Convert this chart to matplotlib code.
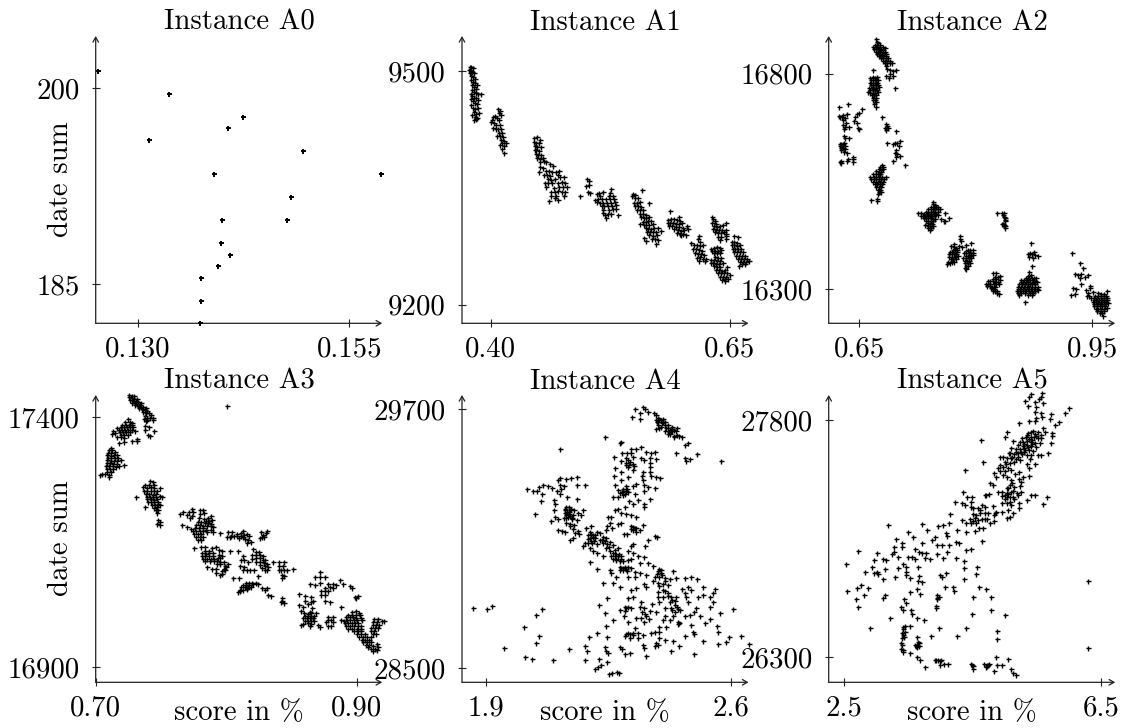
import matplotlib
matplotlib.use("Agg")
import matplotlib.pyplot as plt

A0_points = [(.12522,201.33),(.13367,199.57),(.14240,197.81),(.14063,196.94),(.13134,196.05),(.14947,195.18),(.13905,193.42),(.15875,193.42),(.14813,191.66),(.13999,189.90),(.14762,189.90),(.13984,188.14),(.14094,187.24),(.13952,186.38),(.13751,185.48),(.13747,183.72),(.13739,181.99)]

A1_points = [(.378,9505),(.380,9505),(.382,9504),(.377,9501),(.379,9500),(.381,9499),(.383,9497),(.378,9497),(.380,9494),(.382,9492),(.384,9490),(.380,9489),(.382,9486),(.384,9484),(.386,9482),(.381,9482),(.383,9479),(.385,9477),(.381,9476),(.383,9473),(.385,9472),(.387,9470),(.379,9470),(.381,9468),(.383,9466),(.385,9465),(.387,9463),(.390,9470),(.379,9464),(.382,9461),(.384,9459),(.386,9458),(.380,9457),(.382,9453),(.384,9451),(.387,9452),(.383,9447),(.385,9445),(.388,9446),(.381,9444),(.384,9441),(.386,9440),(.383,9437),(.385,9438),
(.408,9451),(.410,9449),(.409,9446),(.411,9443),(.405,9442),(.403,9441),(.407,9440),(.409,9437),(.401,9437),(.400,9434),(.404,9433),(.406,9431),(.410,9431),(.403,9427),(.406,9426),(.408,9425),(.411,9425),(.409,9421),(.412,9420),(.407,9417),(.410,9416),(.413,9415),(.411,9412),(.414,9410),(.416,9408),(.412,9407),(.410,9405),(.414,9404),(.412,9400),(.414,9395),
(.445,9414),(.449,9415),(.452,9412),(.445,9409),(.448,9408),(.451,9407),(.446,9404),(.449,9403),(.453,9403),(.446,9399),(.448,9398),(.451,9397),(.447,9393),(.450,9392),(.453,9392),(.449,9388),(.452,9387),(.455,9388),(.452,9383),(.456,9384),(.458,9383),
(.452,9377),(.455,9375),(.462,9380),(.465,9378),(.451,9370),(.458,9371),(.461,9372),(.464,9370),(.468,9370),(.472,9372),(.456,9366),(.459,9366),(.462,9365),(.470,9366),(.460,9361),(.463,9360),(.467,9361),(.473,9364),(.477,9364),(.457,9356),(.460,9356),(.464,9356),(.470,9356),(.475,9357),(.478,9356),(.458,9351),(.466,9350),(.472,9351),(.476,9351),(.480,9351),(.463,9345),(.467,9345),(.471,9346),(.475,9345),(.478,9344),(.463,9340),(.468,9340),(.477,9340),(.470,9335),(.461,9333),(.467,9337),
(.501,9361),(.503,9359),(.503,9354),(.500,9352),(.502,9345),(.504,9343),(.494,9340),
(.526,9349),(.513,9343),(.511,9342),(.518,9344),(.525,9343),(.528,9340),(.514,9339),(.524,9339),(.509,9335),(.512,9336),(.516,9336),(.521,9336),(.525,9336),(.529,9336),(.511,9332),(.514,9331),(.518,9331),(.522,9331),(.526,9331),(.530,9332),(.516,9327),(.519,9327),(.523,9327),(.527,9327),(.531,9328),(.518,9322),(.524,9322),(.528,9323),(.531,9323),(.518,9318),(.526,9317),(.520,9315),(.523,9316),(.533,9315),(.521,9311),
(.549,9342),(.551,9341),(.548,9339),(.551,9337),(.558,9347),(.554,9337),(.550,9331),(.553,9331),(.556,9332),(.566,9331),(.551,9327),(.554,9327),(.557,9326),(.553,9322),(.556,9322),(.559,9321),(.556,9317),(.559,9316),(.562,9315),(.557,9312),(.560,9311),(.563,9311),(.566,9313),(.559,9306),(.562,9306),(.565,9307),(.568,9308),(.556,9303),(.560,9302),(.563,9302),(.566,9302),(.570,9303),(.562,9298),(.565,9297),(.568,9297),(.571,9298),(.575,9298),(.564,9293),(.567,9293),(.570,9293),(.573,9293),(.578,9295),(.566,9289),(.570,9288),(.574,9289),(.560,9286),(.569,9284),(.572,9284),(.562,9282),(.575,9283),(.573,9278),
(.5875,9320),(.597,9312),(.586,9309),(.589,9310),(.592,9310),(.595,9309),(.598,9308),(.585,9305),(.588,9305),(.591,9305),(.594,9304),(.597,9304),(.600,9305),(.587,9301),(.590,9301),(.594,9300),(.597,9300),(.601,9299),(.605,9301),(.592,9297),(.596,9296),(.599,9295),(.602,9296),(.606,9297),(.595,9292),(.598,9291),(.601,9291),(.604,9290),(.599,9289),
(.618,9288),(.617,9284),(.619,9281),(.610,9279),(.613,9276),(.616,9277),(.619,9275),(.622,9276),(.612,9272),(.615,9271),(.618,9270),(.621,9269),(.614,9266),(.617,9265),(.620,9265),(.623,9264),(.616,9260),(.619,9261),(.622,9259),(.625,9259),(.618,9256),(.624,9256),
(.632,9313),(.633,9310),(.635,9307),(.632,9305),(.636,9304),(.646,9305),(.634,9301),(.637,9300),(.640,9301),(.643,9302),(.633,9297),(.636,9296),(.639,9296),(.642,9296),(.646,9296),(.635,9293),(.638,9292),(.641,9292),(.644,9293),(.646,9291),(.638,9287),(.641,9287),(.646,9288),(.640,9283),(.646,9284),
(.631,9272),(.634,9273),(.637,9274),(.640,9273),(.632,9269),(.635,9269),(.638,9269),(.641,9270),(.634,9266),(.637,9266),(.640,9266),
(.635,9261),(.638,9260),(.641,9260),(.631,9257),(.634,9257),(.637,9256),(.640,9256),(.630,9253),(.633,9253),(.636,9252),(.639,9252),(.643,9253),(.634,9249),(.637,9248),(.640,9248),(.647,9248),(.636,9244),(.639,9244),(.642,9243),(.645,9245),(.638,9240),(.641,9240),(.644,9240),(.647,9240),(.640,9236),(.643,9236),(.646,9236),(.650,9238),(.642,9232),(.645,9233),(.648,9233),(.645,9230),
(.6544,9288),(.6586,9287),(.652,9280),(.655,9281),(.658,9279),(.652,9276),(.655,9276),(.658,9275),(.661,9276),(.653,9272),(.656,9272),(.659,9271),(.662,9272),(.655,9268),(.658,9267),(.661,9267),(.664,9267),(.657,9263),(.660,9263),(.663,9263),(.666,9263),(.659,9259),(.662,9259),(.665,9258),(.668,9259),(.661,9255),(.664,9255),(.667,9255),(.670,9256),(.663,9252),(.666,9252),(.660,9250)]

A2_points = [(.6715,16879),(.673,16874),(.674,16870),(.670,16867),(.673,16866),(.676,16865),(.668,16861),(.671,16861),(.674,16860),(.677,16861),(.680,16861),(.683,16860),(.669,16856),(.672,16856),(.675,16855),(.678,16856),(.681,16855),(.671,16851),(.674,16850),(.677,16850),(.680,16850),(.683,16851),(.673,16846),(.676,16846),(.679,16845),(.682,16845),(.685,16846),(.675,16841),(.678,16840),(.681,16840),(.684,16841),(.678,16835),(.681,16835),(.684,16835),(.687,16836),(.680,16830),(.683,16830),(.686,16830),(.689,16830),(.683,16825),(.686,16825),(.689,16825),(.692,16825),(.697,16808),(.694,16806),(.690,16808),(.686,16810),(.684,16817),(.690,16800),(.693,16795),(.688,16790),(.684,16794),(.696,16766),
(.668,16808),(.664,16790),(.667,16791),(.670,16790),(.673,16791),(.665,16785),(.668,16785),(.671,16784),(.674,16785),(.664,16779),(.667,16779),(.670,16778),(.673,16779),(.665,16773),(.668,16773),(.671,16773),(.674,16773),(.663,16767),(.666,16767),(.669,16767),(.672,16767),(.675,16768),(.664,16761),(.667,16761),(.670,16761),(.673,16761),(.661,16757),(.664,16756),(.667,16756),(.670,16755),(.674,16757),(.666,16750),(.669,16750),(.672,16750),(.668,16744),(.671,16744),(.667,16738),(.670,16738),(.671,16733),(.671,16722),(.669,16730),
(.6243,16722),(.635,16729),(.6534,16718),(.6496,16708),(.6466,16706),(.6444,16700),(.6427,16691),(.6474,16685),(.6496,16671),(.6488,16673),(.6251,16700),(.6294,16704),(.6337,16706),(.6273,16699),(.6316,16696),(.6243,16702),(.6294,16692),(.6328,16686),(.6285,16681),(.6316,16677),(.6371,16677),(.6303,16671),
(.6303,16655),(.6371,16650),(.6316,16650),(.6303,16640),(.6252,16637),(.627,16636),(.6294,16637),(.625,16632),(.628,16631),(.631,16632),(.626,16627),(.629,16627),(.6316,16626),(.627,16622),(.630,16617),(.6337,16615),(.6414,16607),(.636,16602),(.6414,16601),(.6414,16595),(.626,16597),(.627,16592),(.6256,16596),(.6337,16597),
(.6792,16699),(.6839,16683),(.6856,16678),(.6826,16673),(.6865,16673),(.6843,16668),(.6972,16666),(.6852,16638),(.6929,16637),(.6963,16638),(.6989,16640),(.7023,16644),(.7015,16632),(.6972,16623),(.6959,16615),(.6989,16613),(.6972,16607),(.7023,16609),(.6929,16597),(.7083,16589),
(.6796,16588),(.677,16583),(.680,16583),(.675,16578),(.678,16577),(.681,16578),(.672,16573),(.675,16572),(.678,16572),(.668,16567),(.671,16567),(.674,16567),(.677,16567),(.664,16561),(.669,16561),(.672,16561),(.675,16561),(.679,16561),(.684,16560),(.665,16555),(.669,16555),(.672,16555),(.675,16555),(.678,16555),(.682,16555),(.667,16549),(.671,16549),(.674,16549),(.677,16549),(.680,16549),(.670,16543),(.673,16543),(.676,16543),(.679,16544),(.672,16537),(.675,16537),(.678,16537),(.674,16531),(.677,16531),(.675,16525),(.678,16526),(.674,16520),(.6646,16507),(.673,16505),(.6731,16508),
(.745,16503),(.745,16497),(.747,16495),(.743,16491),(.746,16490),(.749,16491),(.752,16490),(.739,16486),(.742,16485),(.745,16485),(.748,16485),(.751,16485),(.754,16486),(.736,16480),(.739,16480),(.742,16480),(.745,16480),(.748,16480),(.751,16480),(.725,16477),(.730,16476),(.734,16475),(.737,16475),(.740,16475),(.743,16475),(.746,16475),(.749,16474),(.729,16470),(.732,16470),(.735,16470),(.738,16470),(.741,16470),(.744,16470),(.747,16471),(.752,16471),(.733,16464),(.736,16464),(.739,16464),(.742,16464),(.745,16463),(.748,16463),(.736,16459),(.739,16458),(.742,16458),(.745,16458),(.738,16453),(.741,16452),(.744,16452),(.735,16448),(.739,16447),(.741,16446),(.745,16447),(.738,16441),(.742,16441),(.741,16437),(.7602,16476),(.7658,16464),(.761,16459),(.759,16458),(.7555,16462),
(.828,16476),(.8342,16477),(.8363,16476),(.8353,16471),(.8363,16468),(.8375,16466),(.8375,16460),(.8384,16458),(.8353,16451),(.8340,16451),(.8375,16447),(.8382,16442),(.8365,16449),
(.7796,16424),(.7795,16417),(.7813,16411),(.7725,16405),(.7688,16400),(.7779,16400),(.782,16397),(.7876,16403),(.7946,16406),(.7718,16399),(.7745,16395),(.7703,16392),(.7735,16391),(.7765,16392),(.7670,16387),(.770,16386),(.773,16386),(.776,16386),(.7875,16389),(.7905,16390),(.793,16390),(.796,16391),(.765,16381),(.769,16381),(.772,16381),(.775,16381),(.785,16383),(.788,16383),(.791,16384),(.794,16384),(.797,16385),(.766,16375),(.770,16375),(.773,16375),(.777,16376),(.787,16378),(.790,16378),(.793,16378),(.796,16379),(.768,16370),(.771,16370),(.775,16370),(.784,16372),(.788,16372),(.791,16372),(.794,16372),(.764,16364),(.769,16364),(.772,16364),(.786,16366),(.789,16366),(.792,16366),(.763,16359),(.767,16361),(.786,16360),(.790,16360),(.793,16360),(.787,16354),(.790,16354),(.788,16348),(.786,16350),
(.8225,16338),(.8265,16337),(.8310,16330),(.825,16329),(.829,16329),(.8225,16324),(.826,16324),(.8315,16321),(.816,16318),(.819,16318),(.822,16318),(.825,16317),(.829,16316),(.813,16313),(.816,16313),(.819,16312),(.823,16312),(.826,16311),(.830,16311),(.815,16308),(.818,16308),(.821,16306),(.825,16306),(.820,16302),(.824,16301),(.822,16297),(.825,16297),(.827,16295),(.828,16291),(.830,16290),
(.8688,16340),(.8718,16332),(.868,16331),(.8755,16326),(.865,16326),(.869,16326),(.873,16325),(.878,16326),(.859,16321),(.862,16321),(.866,16321),(.870,16321),(.874,16321),(.877,16320),(.858,16316),(.861,16316),(.865,16316),(.868,16316),(.872,16315),(.875,16316),(.879,16316),(.856,16311),(.860,16311),(.863,16311),(.867,16311),(.870,16311),(.873,16311),(.877,16311),(.855,16306),(.859,16306),(.862,16306),(.866,16306),(.869,16306),(.872,16306),(.876,16306),(.880,16306),(.854,16301),(.857,16301),(.861,16301),(.864,16301),(.868,16301),(.871,16301),(.875,16301),(.879,16301),(.853,16296),(.857,16296),(.861,16296),(.865,16296),(.869,16296),(.873,16296),(.877,16296),(.881,16298),(.854,16291),(.859,16291),(.864,16291),(.870,16291),(.874,16291),(.856,16287),(.868,16286),(.873,16287),(.864,16271),
(.8718,16406),(.8696,16384),(.8748,16387),(.868,16381),(.8727,16381),(.876,16379),(.8808,16377),(.8688,16374),(.874,16373),(.8727,16354),
(.9237,16384),(.934,16361),(.9383,16350),(.9361,16335),(.9319,16332),(.9447,16332),(.9404,16329),(.934,16325),(.9361,16313),(.9276,16335),(.9254,16302),(.9297,16301),(.9276,16290),(.9233,16286),(.9469,16307),(.9426,16298),
(.9447,16292),(.9469,16302),(.9430,16285),(.9460,16284),(.9490,16280),(.9510,16293),(.9575,16291),(.9690,16296),(.9620,16290),(.9660,16290),(.9540,16285),(.9580,16285),(.9620,16285),(.9660,16285),(.9680,16284),(.9530,16280),(.9570,16280),(.9610,16280),(.9650,16280),(.9690,16280),(.9520,16275),(.9555,16275),(.9590,16275),(.9625,16275),(.9660,16275),(.9695,16276),(.9510,16270),(.9545,16270),(.9580,16270),(.9615,16270),(.9650,16270),(.9685,16270),(.9705,16268),(.9530,16265),(.9565,16265),(.9600,16265),(.9635,16265),(.9670,16265),(.9530,16260),(.9565,16260),(.9600,16260),(.9635,16260),(.9670,16260),(.9545,16255),(.9580,16255),(.9615,16255),(.9650,16255),(.9690,16256),(.9570,16250),(.9610,16250),(.9650,16250),(.9600,16245),(.9630,16245),(.9640,16239)]

A3_points = [(.8002,17422),(.7255,17445),(.7275,17443),(.7295,17442),(.7255,17440),(.7275,17438),(.7295,17437),(.7315,17436),(.7265,17435),(.7285,17433),(.7305,17432),(.7325,17431),(.7345,17429),(.7280,17429),(.7300,17428),(.7320,17426),(.7340,17425),(.7300,17424),(.7325,17422),(.7345,17421),(.7365,17420),(.7385,17418),(.7335,17418),(.7355,17416),(.7375,17414),(.7395,17413),(.7365,17410),(.7385,17408),(.7405,17408),(.7425,17404),(.7375,17402),(.7440,17399),(.7395,17399),(.7415,17398),(.7370,17396),(.7385,17393),(.7440,17394),(.7395,17395),
(.7245,17396),(.7225,17390),(.7260,17391),(.7280,17389),(.7205,17385),(.7230,17385),(.7255,17385),(.7280,17384),(.7160,17378),(.7190,17381),(.7215,17380),(.7240,17380),(.7265,17380),(.7285,17380),(.7135,17372),(.7175,17375),(.7200,17375),(.7225,17375),(.7250,17375),(.7275,17375),(.7300,17373),(.7125,17367),(.7150,17368),(.7185,17370),(.7210,17370),(.7235,17370),(.7260,17370),(.7195,17365),(.7220,17365),(.7245,17364),(.7165,17361),(.7190,17361),(.7215,17358),(.7314,17357),(.7275,17352),(.7320,17352),(.7215,17350),(.7180,17348),(.7377,17382),(.7408,17380),(.7377,17374),(.7446,17372),(.7403,17365),(.7416,17362),
(.7115,17339),(.7100,17335),(.7125,17334),(.7095,17329),(.7120,17329),(.7145,17330),(.7090,17324),(.7115,17323),(.7140,17324),(.7165,17325),(.7095,17319),(.7120,17318),(.7145,17318),(.7170,17319),(.7090,17314),(.7115,17313),(.7140,17313),(.7165,17312),(.7190,17315),(.7085,17308),(.7110,17308),(.7135,17307),(.7160,17307),(.7215,17305),(.7080,17303),(.7105,17302),(.7130,17302),(.7155,17301),(.7180,17303),(.7085,17297),(.7110,17296),(.7135,17296),(.7090,17291),(.7115,17290),(.7030,17285),(.7050,17287),(.7100,17284),(.7105,17280),(.7075,17287),
(.7416,17272),(.7435,17270),(.7380,17265),(.7410,17265),(.7450,17265),(.7365,17260),(.7395,17258),(.7420,17260),(.7445,17258),(.7490,17258),(.7370,17253),(.7395,17252),(.7420,17252),(.7445,17252),(.7470,17252),(.7385,17247),(.7410,17246),(.7435,17245),(.7460,17246),(.7390,17241),(.7415,17241),(.7440,17240),(.7465,17241),(.7495,17242),(.7310,17240),(.7395,17236),(.7420,17236),(.7445,17235),(.7470,17236),(.7510,17240),(.7400,17231),(.7425,17230),(.7450,17230),(.7475,17230),(.7430,17225),(.7455,17225),(.7480,17226),(.7375,17220),(.7445,17219),(.7470,17220),(.7495,17224),(.7460,17214),(.7480,17214),(.7470,17209),(.7474,17194),(.7490,17190),(.7470,17186),(.7490,17184),
(.7734,17217),(.7670,17210),(.7715,17210),(.7745,17210),(.7800,17214),(.7825,17214),(.7645,17206),(.7700,17204),(.7735,17203),(.7830,17209),(.7800,17207),(.7720,17198),(.7790,17198),(.7830,17197),(.7860,17198),(.7885,17203),(.7845,17193),(.7870,17193),(.7890,17194),(.7780,17190),(.7810,17190),(.7835,17188),(.7860,17188),(.7885,17187),(.7660,17184),(.7700,17181),(.7765,17184),(.7795,17184),(.7825,17183),(.7855,17183),(.7880,17183),(.7900,17180),(.7730,17177),(.7760,17178),(.7790,17178),(.7820,17178),(.7845,17175),(.7885,17175),(.7895,17170),(.7745,17172),(.7770,17172),(.7800,17172),(.7825,17172),(.7850,17170),(.7755,17166),(.7785,17166),(.7810,17166),(.7770,17160),(.7795,17160),(.7820,17160),(.7780,17155),(.7810,17155),(.7752,17138),
(.7810,17140),(.7840,17140),(.7890,17139),(.7920,17140),(.7945,17135),(.7970,17132),(.7840,17133),(.7865,17133),(.7815,17128),(.7845,17127),(.7870,17128),(.7895,17128),(.7815,17123),(.7840,17122),(.7870,17122),(.7895,17122),(.7945,17125),(.7965,17122),(.7825,17117),(.7855,17117),(.7880,17116),(.7905,17116),(.7935,17118),(.7955,17118),(.7840,17112),(.7875,17112),(.7905,17112),(.7930,17112),(.7950,17110),(.7930,17106),(.7955,17106),(.7985,17110),(.7990,17102),(.8000,17100),(.7850,17100),(.7890,17096),(.7925,17096),(.7980,17097),(.7970,17092),(.7990,17094),(.7920,17089),(.7965,17087),(.7950,17085),
(.7955,17169),(.8010,17170),(.8040,17170),(.8130,17172),(.8080,17167),(.8110,17168),(.8160,17167),(.8035,17163),(.8060,17163),(.8085,17163),(.8110,17163),(.8135,17164),(.8005,17160),(.8030,17160),(.8100,17158),(.8125,17160),(.8145,17156),(.8175,17162),(.8165,17155),(.8190,17150),(.8160,17148),(.8265,17171),(.8315,17173),(.8305,17168),(.8285,17165),(.8275,17160),(.8260,17158),(.8290,17160),
(.8032,17132),(.8091,17132),(.8015,17107),(.8130,17122),(.8205,17137),(.8225,17130),(.8250,17130),(.8195,17125),(.8230,17125),(.8255,17125),(.8285,17123),(.8115,17115),(.8135,17115),(.8195,17117),(.8230,17118),(.8255,17118),(.8280,17115),(.8300,17115),(.8170,17110),(.8225,17110),(.8260,17110),(.8290,17108),(.8315,17107),(.8105,17103),(.8135,17100),(.8260,17104),(.8295,17102),(.8320,17100),(.8360,17110),(.8400,17110),(.8445,17111),(.8405,17103),(.8435,17103),(.8130,17095),(.8155,17094),(.8185,17095),(.8210,17095),(.8270,17098),(.8300,17095),(.8315,17095),(.8400,17094),(.8420,17094),(.8440,17094),(.8465,17094),(.8510,17097),(.8430,17085),(.8445,17082),(.8430,17078),(.8245,17082),(.8100,17079),(.8053,17078),
(.8150,17068),(.8175,17068),(.8200,17069),(.8225,17068),(.8130,17064),(.8150,17064),(.8175,17064),(.8205,17066),(.8245,17066),(.8115,17060),(.8140,17060),(.8165,17060),(.8190,17061),(.8105,17055),(.8130,17055),(.8155,17056),(.8090,17050),(.8105,17052),(.8160,17058),(.827,17058),(.8308,17058),(.8295,17055),(.8321,17045),(.8339,17043),(.843,17038),(.8418,17031),(.8441,17028),(.843,17033),
(.8558,17047),(.8601,17043),(.8652,17040),(.8665,17033),(.8601,17033),(.8645,17031),(.8627,17027),(.8556,17025),(.8589,17021),(.8657,17018),(.8576,17013),(.864,17011),
(.8595,17008),(.8625,17006),(.8650,17008),(.8690,17008),(.8600,17002),(.8625,17002),(.8650,17002),(.8675,17002),(.8590,16998),(.8615,16998),(.8640,16998),(.8665,16998),(.8600,16993),(.8625,16993),(.8650,16993),(.8670,16993),(.8590,16987),(.8625,16988),(.8645,16987),(.8640,16982),(.8575,16985),(.8700,16985),
(.878,17001),(.8818,17001),(.878,16995),(.8805,16995),(.8767,16991),(.8818,16991),(.8716,16981),(.878,16983),(.8805,16983),
(.8716,17090),(.8678,17081),(.8716,17080),(.8754,17081),(.864,17066),(.8678,17065),(.8716,17068),(.878,17067),(.8818,17067),(.8844,17065),(.8754,17058),(.8793,17060),(.8818,17058),(.8729,17052),(.8754,17052),(.878,17052),(.8754,17045),(.8754,17033),(.8793,17031),(.8729,17045),
(.8874,17074),(.8895,17067),(.8951,17062),(.8966,17058),(.8984,17040),(.9009,17042),(.8997,17038),(.8882,17021),
(.8960,17011),(.8990,17012),(.9015,17008),(.8935,17005),(.8960,17004),(.8990,17004),(.9025,17005),(.8920,17000),(.8945,17000),(.8970,17000),(.8995,16999),(.9030,16999),(.8875,16994),(.8900,16993),(.8925,16994),(.8950,16994),(.8975,16994),(.9000,16994),(.9040,16994),(.9135,16997),(.9160,16997),(.9190,16992),(.9210,16993),(.8910,16989),(.8935,16988),(.8960,16988),(.8985,16988),(.9010,16988),(.9125,16990),(.9155,16990),(.8915,16983),(.8945,16983),(.8975,16983),(.9005,16983),(.9035,16983),(.9120,16985),(.9145,16985),(.9170,16985),(.8935,16977),(.8965,16977),(.9000,16977),(.9030,16977),(.9105,16978),(.9140,16978),(.9160,16978),(.8980,16972),(.9010,16972),(.9035,16972),(.9110,16972),(.9135,16972),(.9000,16966),(.9030,16966),(.9060,16966),(.9120,16966),(.9150,16966),(.9020,16960),(.9050,16960),(.9080,16960),(.9110,16961),(.9040,16955),(.9065,16955),(.9095,16955),(.9050,16950),(.9080,16950),(.9110,16950),(.9070,16945),(.9095,16945),(.9125,16943),(.9155,16946),(.9085,16940),(.9165,16940),(.9105,16937),(.9140,16937),(.9120,16933),(.9155,16935)]

A4_points = [(2.324,29701),(2.317,29663),(2.340,29681),(2.340,29657),(2.348,29712),(2.355,29701),(2.362,29689),(2.378,29681),(2.386,29674),(2.384,29651),(2.395,29654),(2.404,29654),(2.392,29643),(2.401,29635),(2.410,29643),(2.390,29625),(2.400,29620),(2.386,29608),(2.395,29612),(2.410,29625),(2.420,29628),(2.430,29620),(2.418,29612),(2.426,29605),(2.436,29605),(2.445,29612),(2.412,29600),(2.421,29595),(2.432,29597),(2.442,29600),(2.425,29585),(2.436,29578),(2.446,29582),(2.460,29570),(2.450,29575),(2.437,29570),(2.467,29535),(2.476,29543),(2.443,29496),(2.467,29473),(2.472,29462),(2.481,29470),(2.502,29492),(2.570,29458),(2.240,29570),(2.110,29515),(2.281,29543),(2.286,29546),
(2.343,29527),(2.315,29515),(2.329,29515),(2.288,29499),(2.302,29499),(2.315,29499),(2.357,29504),(2.372,29496),(2.381,29504),(2.264,29481),(2.300,29473),(2.319,29478),(2.343,29473),(2.352,29465),(2.367,29473),(2.384,29470),(2.286,29458),(2.300,29453),(2.309,29442),(2.322,29438),(2.367,29450),(2.367,29434),(2.267,29427),(2.305,29431),(2.284,29411),(2.319,29419),(2.348,29411),(2.367,29411),(2.346,29391),(2.264,29391),(2.372,29391),(2.386,29388),(2.397,29380),(2.305,29388),(2.286,29373),(2.348,29370),(2.267,29350),(2.329,29354),(2.319,29345),(2.300,29345),(2.352,29350),(2.362,29342),(2.381,29334),(2.276,29326),(2.290,29323),(2.300,29319),(2.283,29311),(2.296,29308),(2.324,29308),(2.352,29323),(2.262,29295),(2.276,29295),(2.367,29283),(2.309,29277),(2.333,29280),(2.352,29261),(2.352,29246),(2.319,29261),(2.296,29249),(2.267,29234),(2.276,29237),(2.286,29218),(2.300,29215),(2.315,29211),(2.329,29203),(2.248,29203),(2.257,29200),(2.253,29172),(2.286,29175),(2.276,29169),(2.315,29161),(2.324,29149),(2.338,29141),(2.348,29164),(2.319,29141),(2.329,29130),(2.245,29161),(2.259,29149),(2.241,29141),(2.293,29123),(2.303,29123),(2.381,29115),(2.387,29110),(2.362,29092),(2.355,29067),(2.315,29067),(2.319,29075),
(2.015,29329),(2.034,29319),(2.044,29319),(2.051,29342),(2.063,29350),(2.077,29345),(2.089,29334),(2.058,29308),(2.055,29277),(2.039,29214),(2.110,29380),(2.105,29370),(2.129,29376),(2.141,29380),(2.158,29385),(2.110,29350),(2.121,29345),(2.158,29350),(2.182,29350),(2.114,29329),(2.101,29319),(2.110,29308),(2.131,29292),(2.158,29283),(2.093,29280),(2.096,29261),(2.093,29234),(2.129,29249),(2.137,29246),(2.126,29234),(2.139,29231),(2.150,29231),(2.177,29234),(2.163,29221),(2.124,29218),(2.135,29215),(2.148,29211),(2.172,29211),(2.097,29203),(2.106,29190),(2.121,29195),(2.129,29195),(2.144,29190),(2.158,29187),(2.086,29180),(2.129,29172),(2.139,29169),(2.150,29164),(2.139,29157),(2.148,29144),(2.106,29141),(2.115,29136),(2.124,29132),(2.163,29138),(2.153,29126),(2.166,29123),(2.148,29102),(2.139,29092),
(2.200,29161),(2.186,29149),(2.196,29133),(2.215,29133),(2.191,29118),(2.205,29118),(2.224,29126),(2.196,29102),(2.210,29102),(2.234,29110),(2.181,29079),(2.191,29082),(2.203,29082),(2.224,29095),(2.243,29102),(2.253,29087),(2.177,29067),(2.215,29076),(2.234,29079),(2.262,29072),(2.205,29041),(2.215,29036),(2.196,29056),(2.243,29056),(2.253,29041),(2.267,29048),(2.276,29056),(2.196,28991),(2.217,28960),(2.234,29018),(2.257,29018),(2.267,29018),(2.276,29018),(2.286,29018),(2.305,29041),(2.319,29033),(2.333,29018),(2.352,29014),(2.272,29002),(2.281,28998),(2.290,28998),(2.305,29002),(2.315,29005),(2.338,28987),(2.362,28987),(2.376,28974),(2.281,28971),(2.290,28963),(2.300,28959),(2.315,28963),(2.253,28953),(2.257,28940),(2.281,28953),(2.324,28948),(2.338,28940),(2.272,28925),(2.305,28925),(2.324,28925),(2.357,28933),(2.234,28897),(2.262,28897),(2.281,28878),(2.329,28871),(2.315,28863),(2.352,28891),(2.357,28875),
(2.395,28959),(2.400,28940),(2.435,28951),(2.381,28925),(2.395,28925),(2.410,28917),(2.424,28914),(2.443,28917),(2.467,28917),(2.486,28925),(2.502,28914),(2.376,28902),(2.391,28894),(2.405,28891),(2.419,28886),(2.477,28878),(2.458,28866),(2.486,28863),(2.554,28866),(2.519,28878),(2.405,28863),(2.391,28855),(2.419,28848),(2.467,28848),(2.505,28832),(2.518,28840),(2.548,28851),(2.305,28825),(2.319,28829),(2.391,28832),(2.405,28829),(2.428,28829),(2.443,28832),(2.472,28829),(2.538,28829),(2.343,28809),(2.395,28809),(2.424,28805),(2.438,28794),(2.476,28805),(2.548,28809),(2.245,28825),(2.222,28794),(2.305,28786),(2.315,28778),(2.281,28770),(2.296,28767),(2.338,28786),(2.352,28778),(2.367,28767),(2.386,28763),(2.410,28778),(2.428,28778),(2.447,28774),(2.500,28778),(2.538,28786),(2.605,28775),(2.567,28755),(2.495,28763),(2.481,28747),(2.510,28740),(2.239,28755),(2.293,28744),(2.329,28732),(2.343,28732),(2.357,28740),(2.410,28740),(2.433,28740),(2.467,28740),(2.262,28725),(2.305,28716),(2.352,28716),(2.405,28725),(2.424,28725),(2.447,28706),(2.486,28701),(2.524,28709),(2.540,28727),(2.241,28698),(2.559,28696),(2.395,28693),(2.414,28689),
(2.324,28686),(2.305,28662),(2.319,28665),(2.333,28662),(2.348,28655),(2.296,28650),(2.310,28639),(2.333,28639),(2.381,28670),(2.395,28670),(2.371,28662),(2.410,28632),(2.395,28639),(2.433,28627),(2.467,28650),(2.491,28670),(2.495,28659),(2.519,28627),(2.562,28670),(2.562,28612),(2.584,28624),(2.595,28644),(2.629,28650),(2.650,28613),(2.194,28647),(2.215,28662),(2.245,28647),(2.386,28616),(2.391,28608),(2.381,28601),(2.452,28601),(2.429,28581),(2.495,28567),(2.348,28608),(2.350,28593),(2.357,28559),(2.281,28598),(2.289,28588),(2.297,28567),(2.311,28570),(2.239,28598),(2.243,28582),(2.248,28570),(2.181,28604),(2.188,28582),(2.181,28539),(2.136,28590),(2.222,28544),(2.245,28527),(2.229,28516),(2.220,28508),(2.210,28497),(2.251,28473),(2.258,28480),(2.274,28483),(2.278,28480),
(1.861,28778),(1.903,28775),(1.916,28789),(2.058,28775),(2.042,28747),(2.008,28693),(2.050,28650),(2.041,28619),(1.950,28593),(2.010,28554),(2.032,28544),(2.090,28536),
(2.130,29225),(2.137,29222),(2.128,29212),(2.140,29205),(2.133,29200),(2.146,29198),(2.125,29240),(2.142,29240),(2.198,29120),(2.206,29108),(2.190,29100),(2.212,29118),(2.200,29090),(2.208,29090),(2.270,29030),(2.280,29030),(2.262,29035),(2.272,29008),(2.262,29005),(2.285,29008),(2.250,29060),(2.245,29075),(2.240,29090),(2.232,29095),(2.285,28965),(2.296,28970),(2.305,28970),(2.292,28955),(2.303,28950),(2.305,29465),(2.312,29455),(2.318,29445),(2.300,29440),(2.288,29318),(2.292,29330),(2.302,29330),(2.290,29305),(2.304,29318),(2.392,28950),(2.400,28955),(2.402,28930),(2.388,28935),(2.412,28905),(2.395,28880),(2.412,28860),(2.420,28835),(2.430,28815),(2.440,28810),(2.445,28785),(2.432,28770),(2.440,28760),(2.455,28770),(2.447,28715),(2.452,28710),(2.320,28655),(2.310,28660),(2.300,28658),(2.375,28800),(2.365,28730),(2.355,28750),(2.345,28760),(2.300,28780),(2.296,28785),(2.320,29155),(2.328,29150),(2.315,29145),(2.392,29660),(2.398,29648),(2.405,29640),(2.388,29640),(2.415,29615),(2.430,29610),(2.420,29585),(2.428,29600)]

A5_points = [(5.41,27965),(5.38,27950),(5.53,27933),(5.57,27950),(5.58,27975),(5.32,27924),(5.47,27918),(5.36,27891),(5.49,27887),(5.60,27908),(5.47,27855),(5.57,27844),(5.72,27840),(6.00,27880),(5.93,27844),(5.85,27792),(5.78,27770),(5.70,27806),(5.58,27823),(5.47,27796),(5.38,27796),(5.22,27785),(5.49,27813),(5.73,27722),(5.59,27749),(5.62,27728),(5.73,27701),(5.67,27595),(5.72,27654),(5.03,27728),(5.00,27697),(4.63,27676),(4.66,27538),(4.38,27486),
(5.44,27735),(5.36,27718),(5.47,27713),(5.52,27728),(5.57,27707),(5.26,27686),(5.33,27692),(5.41,27697),(5.46,27692),(5.52,27686),(5.57,27686),(5.13,27671),(5.28,27665),(5.34,27669),(5.40,27665),(5.47,27659),(5.54,27654),(5.21,27644),(5.28,27638),(5.35,27644),(5.41,27638),(5.48,27633),(5.10,27623),(5.17,27616),(5.24,27616),(5.31,27612),(5.38,27612),(5.44,27608),(5.08,27595),(5.14,27587),(5.21,27591),(5.27,27585),(5.35,27581),(5.41,27581),(5.52,27581),(5.57,27581),(4.97,27566),(5.03,27559),(5.10,27559),(5.17,27553),(5.23,27549),(5.39,27553),(4.92,27566),(5.00,27538),(5.08,27528),(5.15,27538),(5.34,27523),(5.47,27523),
(4.97,27507),(5.05,27496),(4.92,27479),(5.09,27486),(5.22,27475),(5.37,27496),(4.83,27465),(4.97,27454),(4.87,27443),(5.28,27443),(5.37,27448),(5.25,27412),(5.10,27422),(5.03,27439),(4.77,27405),(4.81,27391),(5.08,27391),(5.23,27384),(5.15,27380),(5.03,27370),(4.90,27348),(4.70,27327),(4.76,27334),(4.96,27348),(5.04,27338),(5.10,27348),(5.19,27338),(5.25,27348),(5.41,27327),(5.47,27327),(5.34,27296),(5.20,27327),(5.03,27317),(5.08,27313),(5.13,27317),(4.71,27327),(5.66,27313),(5.60,27268),(5.22,27275),(4.95,27279),(5.03,27275),(5.10,27264),(5.22,27243),(4.81,27260),
(4.64,27264),(4.59,27243),(4.51,27243),(4.47,27253),(4.35,27344),(4.42,27317),(4.49,27317),(4.47,27285),(4.38,27264),(4.22,27285),(4.33,27279),
(4.87,27222),(4.95,27218),(5.05,27232),(5.13,27211),(5.08,27190),(5.03,27180),(4.83,27201),(4.74,27211),(4.69,27211),(4.61,27211),(4.51,27207),(4.54,27180),(4.64,27173),(4.72,27173),(4.84,27165),(4.77,27148),(4.15,27205),(4.33,27169),(4.40,27148),(4.48,27148),(4.59,27169),(4.46,27173),(4.60,27121),(4.66,27116),(4.53,27102),(4.39,27095),(4.25,27106),(4.14,27148),(4.04,27137),(3.96,27133),(4.09,27085),(4.10,27068),(3.79,27106),(3.72,27144),(3.50,27091),(3.57,27064),(3.19,27137),(3.91,27064),(3.87,27042),(4.65,27038),(4.24,27032),(4.29,27021),(3.72,27026),(3.31,27047),(3.40,27026),(3.28,26996),(3.40,26996),(3.94,27011),(4.02,27011),(4.14,27011),(4.39,26979),(4.47,26983),(4.10,26969),(3.60,26986),(3.66,26964),(3.71,26962),(3.78,26962),(3.27,26969),(3.24,26954),(3.01,26958),(2.72,26975),(3.34,26937),(3.50,26937),(3.55,26937),(3.61,26922),(3.76,26926),(3.84,26922),(3.94,26952),(4.04,26931),(4.24,26926),(4.36,26912),(2.97,26916),(3.10,26920),(3.16,26916),(2.53,26891),(2.93,26874),(3.13,26859),(3.41,26891),(3.34,26863),(3.47,26874),(3.65,26874),(4.36,26863),(4.57,26869),(2.83,26838),(2.96,26831),(3.02,26842),(3.03,26827),(3.46,26842),(3.67,26815),(3.99,26821),(4.09,26836),(4.03,26810),(4.55,26827),(3.10,26796),(3.29,26806),(3.47,26821),(3.52,26800),(3.65,26785),(3.71,26779),(4.36,26794),(2.76,26758),(2.70,26741),(2.54,26720),(2.88,26737),(2.81,26694),(3.52,26715),(3.63,26730),(3.68,26699),(4.07,26743),(4.20,26747),(4.21,26722),(4.60,26743),(4.71,26732),(4.51,26684),(4.79,26684),(3.94,26694),(3.98,26684),(3.94,26667),(3.14,26694),(3.11,26678),(2.69,26667),(2.71,26620),(3.43,26669),(3.46,26642),(3.38,26620),(3.41,26599),(3.93,26614),(4.78,26599),(3.54,26599),(3.56,26574),(4.49,26574),(5.00,26568),(3.22,26551),(3.63,26547),(3.74,26536),(2.90,26488),(3.45,26498),(3.53,26498),(3.42,26477),(3.45,26462),(3.42,26441),(3.97,26488),(4.39,26488),(4.88,26469),(4.25,26437),(3.86,26435),(4.88,26414),(3.40,26420),(3.39,26388),(3.64,26426),(3.60,26378),(3.65,26399),(3.67,26372),(3.63,26367),(3.38,26350),(3.41,26336),(3.52,26329),(3.63,26304),(3.68,26283),(3.76,26241),(3.91,26283),(3.96,26283),(4.01,26283),(4.00,26251),(4.06,26257),(4.11,26257),(4.47,26255),(4.50,26245),(4.50,26226),(4.67,26257),(4.72,26251),(4.71,26236),(4.76,26257),(4.87,26300),(4.88,26251),(4.96,26253),(5.05,26289),(4.83,26215),(5.10,26224),(5.13,26198),(5.17,26188),(6.30,26785),(6.29,26361),
(5.30,27625),(5.36,27630),(5.42,27650),(5.30,27650),(5.25,27600),(5.18,27600),(5.38,27680),(5.43,27675),(5.48,27700),(5.24,27660),(5.40,27725),(5.35,27705),(5.12,27565),(5.06,27590),(5.20,27570),(5.30,27600),(5.02,27525),(4.93,27520),(4.90,27495),(5.00,27480),(5.16,27460),(5.22,27430),(5.12,27400),(5.05,27370),(5.00,27330),(4.95,27320),(5.05,27335),(5.13,27355),(5.15,27300),(5.08,27280),(5.00,27300),(4.70,27250),(4.62,27230),(4.55,27200),(4.85,27215),(4.70,27175),(4.55,27150),(4.50,27165),(3.42,26490),(3.40,26455),(3.44,26430),(3.40,26375),(3.42,26345),(3.64,26380),(3.67,26390),(3.62,26370),(3.93,26625),(3.95,26675),(4.49,26250),(4.72,26245),(4.74,26253),(3.93,26283),(3.99,26275)]

titles = ["Instance A0", "Instance A1", "Instance A2", "Instance A3", "Instance A4", "Instance A5"]
series = [A0_points, A1_points, A2_points, A3_points, A4_points, A5_points]
x_ticks = [[0.130, 0.155], [0.40, 0.65], [0.65, 0.95], [0.70, 0.90], [1.9, 2.6], [2.5, 6.5]]
x_tick_labels = [["0.130", "0.155"], ["0.40", "0.65"], ["0.65", "0.95"], ["0.70", "0.90"], ["1.9", "2.6"], ["2.5", "6.5"]]
y_ticks = [[185, 200], [9200, 9500], [16300, 16800], [16900, 17400], [28500, 29700], [26300, 27800]]
x_limits = [(0.12499, 0.1589), (0.3701, 0.6697), (0.6105, 0.9799), (0.70, 0.9194), (1.8306, 2.6494), (2.262, 6.717)]
y_limits = [(182, 204), (9176, 9545), (16221, 16887), (16870, 17445), (28435, 29766), (26142, 27960)]
marker_widths = [1.4, 1.0, 1.0, 1.0, 1.0, 1.0]

W, H = 1123, 728
lefts = [95.7, 462.0, 828.7]
tops = [36.0, 395.0]
AW, AH = 286.5, 287.3
FS = 20.8

plt.rcParams["font.family"] = "cmr10"
plt.rcParams["axes.formatter.use_mathtext"] = True
plt.rcParams["axes.unicode_minus"] = False

fig = plt.figure(figsize=(W / 100, H / 100), dpi=100, facecolor="white")

for i in range(6):
    r, c = i // 3, i % 3
    ax = fig.add_axes([lefts[c] / W, 1 - (tops[r] + AH) / H, AW / W, AH / H])
    xs = [p[0] for p in series[i]]
    ys = [p[1] for p in series[i]]
    ax.plot(xs, ys, ls="none", marker="+", ms=3.6, mew=marker_widths[i], color="black", clip_on=False, zorder=5)
    ax.set_xlim(*x_limits[i])
    ax.set_ylim(*y_limits[i])
    ax.set_xticks(x_ticks[i], x_tick_labels[i])
    ax.set_yticks(y_ticks[i], [str(v) for v in y_ticks[i]])
    ax.tick_params(axis="both", direction="inout", length=6.2, width=0.8, labelsize=FS, color="#222222")
    ax.tick_params(axis="x", pad=6)
    ax.tick_params(axis="y", pad=8.5)
    for s in ax.spines.values():
        s.set_visible(False)
    for end in [(1, 0), (0, 1)]:
        ax.annotate("", xy=end, xytext=(0, 0), xycoords="axes fraction", textcoords="axes fraction",
                    arrowprops=dict(arrowstyle="->,head_length=0.35,head_width=0.2", lw=0.9, color="#222222",
                                    shrinkA=0, shrinkB=0))
    ax.set_title(titles[i], fontsize=FS, pad=2.5)
    if c == 0:
        ax.set_ylabel("date sum", fontsize=FS, va="baseline")
        ax.yaxis.set_label_coords(-0.097, 0.5)
    if r == 1:
        ax.set_xlabel("score in %", fontsize=FS, va="baseline")
        ax.xaxis.set_label_coords(0.5, -0.131)

fig.savefig("out.png", dpi=100)
